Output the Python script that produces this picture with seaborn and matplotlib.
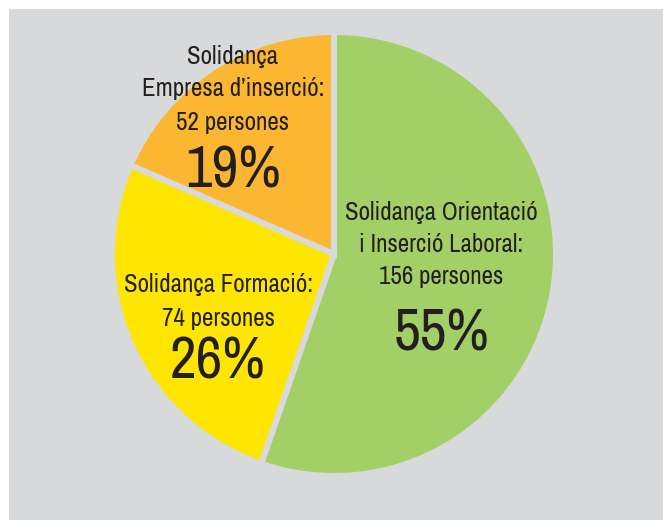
import numpy as np
import seaborn as sns
import matplotlib.pyplot as plt
from matplotlib.patches import Rectangle

# dades
programes = ["Solidança Orientació\ni Inserció Laboral:", "Solidança Formació:", "Solidança\nEmpresa d’inserció:"]
persones = [156, 74, 52]
percentatges = ["55%", "26%", "19%"]
colors = ["#a2cf66", "#ffe600", "#fbb731"]

bg = "#d8d9da"
ink = "#231f20"

sns.set_style("white")
plt.rcParams['font.family'] = ['Archivo Narrow', 'Roboto Condensed', 'Liberation Sans', 'DejaVu Sans']

W, H = 663, 520
cx, cy, R = 334, 254, 222  # centre i radi en pixels

fig = plt.figure(figsize=(W / 100, H / 100), dpi=100, facecolor="white")
fig.patches.append(Rectangle((9 / W, 0), 1, (H - 9) / H, transform=fig.transFigure,
                             facecolor=bg, edgecolor="none", zorder=-5))
ax = fig.add_axes([0, 0, 1, 1])
ax.set_facecolor("none")
ax.set_zorder(1)

ax.pie(persones, colors=colors, startangle=90, counterclock=False, radius=1,
       wedgeprops=dict(edgecolor=bg, linewidth=4.3))
ax.set_xlim(-cx / R, (W - cx) / R)
ax.set_ylim(-(H - cy) / R, cy / R)
ax.set_aspect("auto")
ax.axis("off")


def pos(px, py):
    return (px - cx) / R, (cy - py) / R


# posicions de les etiquetes (pixels) : x, linies petites, percentatge
llocs = [
    (441, [213, 245, 276], 334),
    (218, [285, 318], 362),
    (233, [57, 89, 122], 171),
]

for nom, n, pct, (px, ys, yp) in zip(programes, persones, percentatges, llocs):
    linies = nom.split("\n") + [f"{n} persones"]
    for t, py in zip(linies, ys):
        x, y = pos(px, py)
        ax.text(x, y, t, ha="center", va="center", fontsize=18, color=ink)
    x, y = pos(px, yp)
    ax.text(x, y, pct, ha="center", va="center", fontsize=42, color=ink)

plt.savefig("out.png", dpi=100, facecolor="white")
